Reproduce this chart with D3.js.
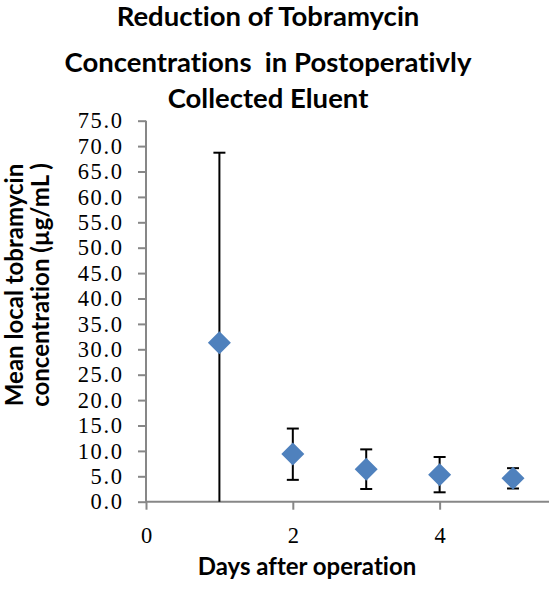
<!DOCTYPE html>
<html><head><meta charset="utf-8">
<script src="https://cdn.jsdelivr.net/npm/d3@7"></script>
<style>body{margin:0;background:#fff} text{font-variant-ligatures:none}</style>
</head><body>
<svg id="chart" width="551" height="604"></svg>
<script>
const days = [1, 2, 3, 4, 5];
const means = [31.3, 9.4, 6.4, 5.3, 4.6];
const errUpper = [68.7, 14.4, 10.3, 8.8, 6.6];
const errLower = [0, 4.3, 2.5, 1.85, 2.6];
const yTicks = [0,5,10,15,20,25,30,35,40,45,50,55,60,65,70,75];
const xTicks = [0, 2, 4];
const titleLines = ["Reduction of Tobramycin", "Concentrations  in Postoperativly", "Collected Eluent"];
const yLabelLines = ["Mean local tobramycin", "concentration (µg/mL )"];
const xLabel = "Days after operation";

const svg = d3.select("#chart");
const pL = 146, pR = 549, pT = 120.7, pB = 501.7;
const x = d3.scaleLinear().domain([0, 5.49]).range([pL, pR]);
const y = d3.scaleLinear().domain([0, 75]).range([pB, pT]);

const axisColor = "#878787";
const serif = "'Liberation Serif', 'DejaVu Serif', serif";
// y axis
const yAxis = svg.append("g").attr("transform", `translate(${pL},0)`)
  .call(d3.axisLeft(y).tickValues(yTicks).tickFormat(d3.format(".1f")).tickSize(8).tickPadding(14.5));
yAxis.select(".domain").attr("stroke", axisColor).attr("stroke-width", 2).attr("d", `M0,${pT}V${pB}`);
yAxis.selectAll(".tick line").attr("stroke", axisColor).attr("stroke-width", 2);
yAxis.selectAll(".tick text").attr("font-family", serif)
  .attr("font-size", 22.5).attr("letter-spacing", "1.6px").attr("fill", "#000");

// x axis
const xAxis = svg.append("g").attr("transform", `translate(0,${pB})`)
  .call(d3.axisBottom(x).tickValues(xTicks).tickFormat(d3.format("d")).tickSize(8).tickPadding(17));
xAxis.select(".domain").attr("stroke", axisColor).attr("stroke-width", 2).attr("d", `M${pL},0H${pR}`);
xAxis.selectAll(".tick line").attr("stroke", axisColor).attr("stroke-width", 2);
xAxis.selectAll(".tick text").attr("font-family", serif)
  .attr("font-size", 22.5).attr("fill", "#000");

const data = days.map((d, i) => ({x: d, m: means[i], hi: errUpper[i], lo: errLower[i]}));
const capW = 6;
const eb = svg.append("g").attr("stroke", "#000").attr("stroke-width", 2);
data.forEach(d => {
  eb.append("line").attr("x1", x(d.x)).attr("x2", x(d.x)).attr("y1", y(d.hi)).attr("y2", y(d.lo));
  eb.append("line").attr("x1", x(d.x)-capW).attr("x2", x(d.x)+capW).attr("y1", y(d.hi)).attr("y2", y(d.hi));
  if (d.lo > 0) eb.append("line").attr("x1", x(d.x)-capW).attr("x2", x(d.x)+capW).attr("y1", y(d.lo)).attr("y2", y(d.lo));
});
const r = 11.5;
svg.append("g").selectAll("path").data(data).join("path")
  .attr("d", d => `M${x(d.x)},${y(d.m)-r}L${x(d.x)+r},${y(d.m)}L${x(d.x)},${y(d.m)+r}L${x(d.x)-r},${y(d.m)}Z`)
  .attr("fill", "#4F81BD");

const sans = "Lato, 'Open Sans', sans-serif";
const tb = [26, 72, 108];
svg.append("g").selectAll("text").data(titleLines).join("text")
  .attr("x", 268).attr("y", (d, i) => tb[i]).attr("text-anchor", "middle")
  .attr("font-family", sans).attr("font-weight", "bold").attr("font-size", 27.5)
  .style("white-space", "pre").text(d => d);

svg.append("g").selectAll("text").data(yLabelLines).join("text")
  .attr("transform", (d, i) => `translate(${[23, 48.5][i]},285) rotate(-90)`)
  .attr("text-anchor", "middle").attr("font-family", sans).attr("font-weight", "bold").attr("font-size", 24)
  .text(d => d);

svg.append("text").attr("x", 307).attr("y", 575).attr("text-anchor", "middle")
  .attr("font-family", sans).attr("font-weight", "bold").attr("font-size", 24).text(xLabel);
</script>
</body></html>
